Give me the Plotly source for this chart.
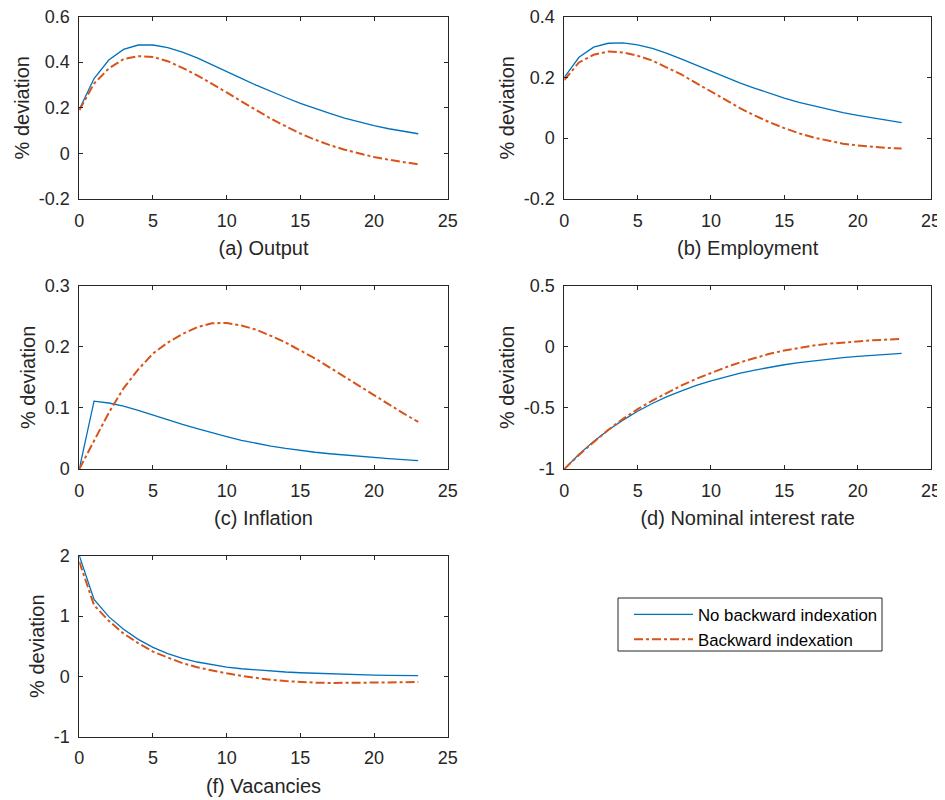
import plotly.graph_objects as go

t = list(range(24))

output_nobi = [0.193, 0.328, 0.409, 0.456, 0.475, 0.475, 0.464, 0.444, 0.419, 0.39, 0.36, 0.329,
               0.299, 0.271, 0.245, 0.219, 0.196, 0.175, 0.155, 0.138, 0.122, 0.108, 0.097, 0.086]
output_bi = [0.189, 0.306, 0.372, 0.413, 0.426, 0.423, 0.404, 0.375, 0.342, 0.306, 0.267, 0.228,
             0.189, 0.152, 0.119, 0.087, 0.06, 0.036, 0.016, -0.001, -0.016, -0.028, -0.038, -0.048]

empl_nobi = [0.2, 0.266, 0.299, 0.312, 0.313, 0.307, 0.295, 0.279, 0.26, 0.24, 0.219, 0.2,
             0.181, 0.164, 0.147, 0.132, 0.118, 0.106, 0.095, 0.084, 0.075, 0.067, 0.059, 0.051]
empl_bi = [0.191, 0.249, 0.274, 0.285, 0.282, 0.271, 0.255, 0.233, 0.209, 0.181, 0.153, 0.125,
           0.098, 0.074, 0.052, 0.033, 0.016, 0.002, -0.009, -0.018, -0.024, -0.029, -0.032, -0.034]

infl_nobi = [0.0, 0.111, 0.108, 0.103, 0.096, 0.088, 0.081, 0.073, 0.066, 0.059, 0.053, 0.047,
             0.042, 0.0376, 0.0337, 0.0302, 0.0274, 0.025, 0.0227, 0.0205, 0.0187, 0.017, 0.0154, 0.0138]
infl_bi = [0.0, 0.047, 0.092, 0.132, 0.163, 0.189, 0.207, 0.221, 0.232, 0.2385, 0.239, 0.235,
           0.228, 0.218, 0.207, 0.194, 0.181, 0.166, 0.151, 0.135, 0.12, 0.106, 0.091, 0.077]

rate_nobi = [-1.0, -0.88, -0.774, -0.681, -0.60, -0.527, -0.464, -0.408, -0.36, -0.316, -0.279, -0.245,
             -0.216, -0.19, -0.167, -0.147, -0.13, -0.114, -0.1, -0.088, -0.078, -0.068, -0.06, -0.053]
rate_bi = [-1.0, -0.885, -0.78, -0.68, -0.59, -0.51, -0.44, -0.375, -0.316, -0.262, -0.214, -0.168,
           -0.127, -0.09, -0.057, -0.03, -0.008, 0.01, 0.025, 0.036, 0.045, 0.053, 0.059, 0.064]

vac_nobi = [2.0, 1.276, 0.99, 0.78, 0.613, 0.48, 0.376, 0.298, 0.238, 0.19, 0.153, 0.126,
            0.104, 0.086, 0.072, 0.06, 0.05, 0.041, 0.034, 0.028, 0.022, 0.018, 0.014, 0.011]
vac_bi = [1.9, 1.18, 0.92, 0.71, 0.55, 0.41, 0.312, 0.22, 0.15, 0.094, 0.05, 0.008,
          -0.028, -0.058, -0.078, -0.093, -0.104, -0.109, -0.11, -0.108, -0.105, -0.101, -0.097, -0.094]

titles = ["(a) Output", "(b) Employment", "(c) Inflation", "(d) Nominal interest rate", "(f) Vacancies"]
yranges = [[-0.2, 0.6], [-0.2, 0.4], [0, 0.3], [-1, 0.5], [-1, 2]]
ytickvals = [[-0.2, 0, 0.2, 0.4, 0.6], [-0.2, 0, 0.2, 0.4], [0, 0.1, 0.2, 0.3],
             [-1, -0.5, 0, 0.5], [-1, 0, 1, 2]]
yticktext = [["-0.2", "0", "0.2", "0.4", "0.6"], ["-0.2", "0", "0.2", "0.4"], ["0", "0.1", "0.2", "0.3"],
             ["-1", "-0.5", "0", "0.5"], ["-1", "0", "1", "2"]]
series = [(output_nobi, output_bi), (empl_nobi, empl_bi), (infl_nobi, infl_bi),
          (rate_nobi, rate_bi), (vac_nobi, vac_bi)]
legend_names = ["No backward indexation", "Backward indexation"]

# the page places the figure 8px from the window's top-left corner
W, H = 937, 792
col_px = [(71.3, 439.7), (556.3, 923.0)]
row_px = [(8.5, 191.0), (277.7, 461.0), (547.7, 728.7)]
pos = [(0, 0), (0, 1), (1, 0), (1, 1), (2, 0)]

BLUE = "#0072BD"
RED = "#D95319"
TXT = "#262626"
FONT = "Liberation Sans, Arial, sans-serif"

fig = go.Figure()
for i, (r, c) in enumerate(pos):
    ax = "" if i == 0 else str(i + 1)
    xd = [col_px[c][0] / W, col_px[c][1] / W]
    yd = [1 - row_px[r][1] / H, 1 - row_px[r][0] / H]
    nobi, bi = series[i]
    fig.add_trace(go.Scatter(x=t, y=nobi, mode="lines", name=legend_names[0],
                             line=dict(color=BLUE, width=1.3), showlegend=(i == 0),
                             xaxis="x" + ax, yaxis="y" + ax))
    fig.add_trace(go.Scatter(x=t, y=bi, mode="lines", name=legend_names[1],
                             line=dict(color=RED, width=2, dash="dashdot"), showlegend=(i == 0),
                             xaxis="x" + ax, yaxis="y" + ax))
    fig.layout["xaxis" + ax] = dict(
        domain=xd, range=[0, 25], tickvals=[0, 5, 10, 15, 20, 25], anchor="y" + ax,
        showline=True, linecolor=TXT, linewidth=1, mirror="ticks", ticks="inside",
        ticklen=4, tickcolor=TXT, showgrid=False, zeroline=False, automargin=False,
        ticklabeloverflow="allow",
        tickfont=dict(family=FONT, size=18, color=TXT), ticklabelstandoff=5,
        title=dict(text=titles[i], font=dict(family=FONT, size=20, color=TXT), standoff=11),
    )
    fig.layout["yaxis" + ax] = dict(
        domain=yd, range=yranges[i], tickvals=ytickvals[i], ticktext=yticktext[i], anchor="x" + ax,
        showline=True, linecolor=TXT, linewidth=1, mirror="ticks", ticks="inside",
        ticklen=4, tickcolor=TXT, showgrid=False, zeroline=False, automargin=False,
        ticklabeloverflow="allow",
        tickfont=dict(family=FONT, size=18, color=TXT), ticklabelstandoff=5,
        title=dict(text="% deviation", font=dict(family=FONT, size=20, color=TXT), standoff=3),
    )

# legend frame (drawn as a shape so its size matches the reference box)
fig.add_shape(type="rect", xref="paper", yref="paper",
              x0=610 / W, x1=874 / W, y0=1 - 643 / H, y1=1 - 590 / H,
              line=dict(color=TXT, width=1), fillcolor="white", layer="below")

fig.update_layout(
    width=W, height=H, margin=dict(l=0, r=0, t=0, b=0),
    paper_bgcolor="white", plot_bgcolor="white",
    font=dict(family=FONT, color=TXT),
    legend=dict(x=621 / W, y=1 - 589 / H, xanchor="left", yanchor="top",
                borderwidth=0, bgcolor="rgba(0,0,0,0)",
                font=dict(family=FONT, size=16.8, color="#000000"),
                itemwidth=59, tracegroupgap=0),
)

fig.write_html("out.html")
